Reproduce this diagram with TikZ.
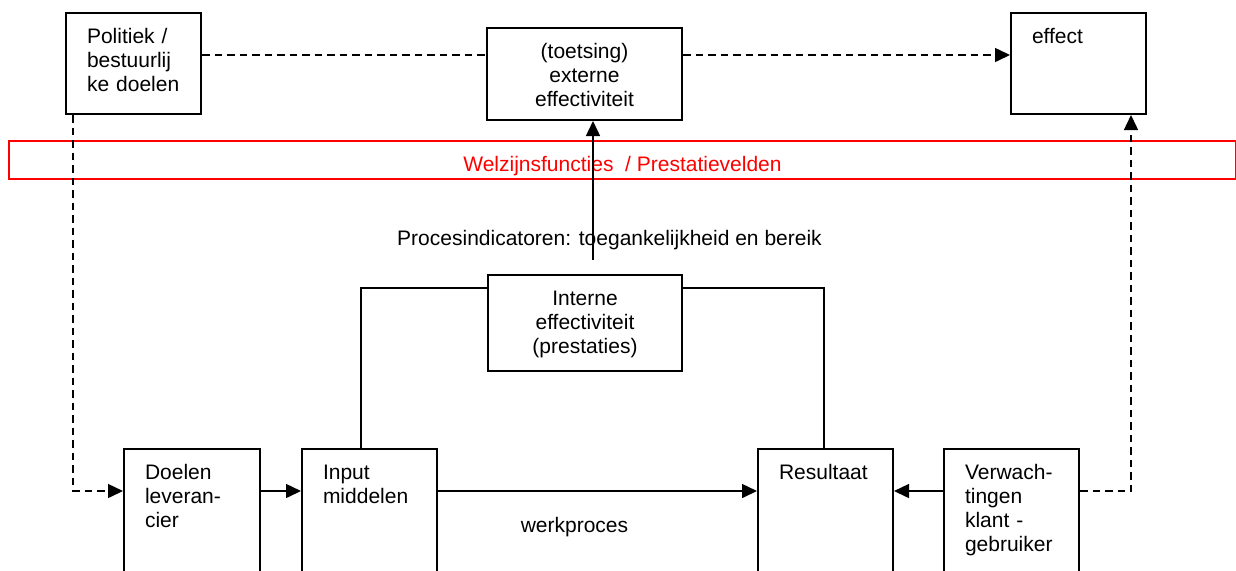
\documentclass[tikz,border=0pt]{standalone}
\usepackage{fontspec}
\setmainfont{Liberation Sans}
\usetikzlibrary{arrows.meta,calc}

\begin{document}
\begin{tikzpicture}[
x=0.5pt, y=-0.5pt,
every node/.style={font=\fontsize{10.5pt}{12pt}\selectfont},
box/.style={
	draw, line width=1pt, rectangle,
	anchor=north west, inner xsep=10.5pt, inner ysep=0pt,
	text height=15pt, align=left
},
conn/.style={line width=0.75pt},
arrowtip/.style={-{Triangle[length=7.5pt,width=7pt]}},
dline/.style={conn, dash pattern=on 3.75pt off 2.5pt}
]
\useasboundingbox (0,0) rectangle (1236,570);
\coordinate (top) at (0,55);
\coordinate (link) at (0,288);
\coordinate (flow) at (0,491);
\coordinate (procup) at (593,260);
% upper row
\node[box,text width=46.5pt,text depth=35.5pt] (pol) at (65,12) {Politiek /\\bestuurlij\\ke doelen};
\node[box,align=center,text width=76.5pt,text depth=31pt] (ext) at (486,27) {(toetsing)\\externe\\effectiviteit};
\node[box,text width=46.5pt,text depth=35.5pt] (eff) at (1010,12) {effect};
\node[draw=red,line width=1pt,text=red,anchor=north west,inner sep=0pt,
	minimum width=613.5pt,minimum height=19pt,text height=11pt,text depth=0pt]
	(band) at (8,140) {Welzijnsfuncties\ \ / Prestatievelden};
% middle
\node[anchor=base] (proc) at (609.5,245) {Procesindicatoren: toegankelijkheid en bereik};
\node[box,align=center,text width=76pt,text depth=33pt] (int) at (487,274) {Interne\\effectiviteit\\(prestaties)};
% lower row
\node[box,text width=47pt,text depth=50pt] (doel) at (123,448) {Doelen\\leveran-\\cier};
\node[box,text width=46.5pt,text depth=50pt] (inp) at (301,448) {Input\\middelen};
\node[box,text width=46.5pt,text depth=50pt] (res) at (757,448) {Resultaat};
\node[box,text width=46.5pt,text depth=50pt] (verw) at (943,448) {Verwach-\\tingen\\klant -\\gebruiker};
\node[anchor=base] (werk) at (574.5,532) {werkproces};
% connectors
\draw[conn,arrowtip] (procup) -- (procup |- ext.south);
\draw[conn] ([xshift=30pt]inp.north west) |- (int.west |- link);
\draw[conn] (int.east |- link) -| ([xshift=33.5pt]res.north west);
\foreach \a/\b in {doel/inp,inp/res}
	\draw[conn,arrowtip] (\a.east |- flow) -- (\b.west |- flow);
\draw[conn,arrowtip] (verw.west |- flow) -- (res.east |- flow);
\draw[dline,arrowtip] ([xshift=4pt]pol.south west) |- (doel.west |- flow);
\draw[dline] (pol.east |- top) -- (ext.west |- top);
\draw[dline,arrowtip] (ext.east |- top) -- (eff.west |- top);
\draw[dline,arrowtip] (verw.east |- flow) -| ([xshift=-8pt]eff.south east);
\end{tikzpicture}
\end{document}
